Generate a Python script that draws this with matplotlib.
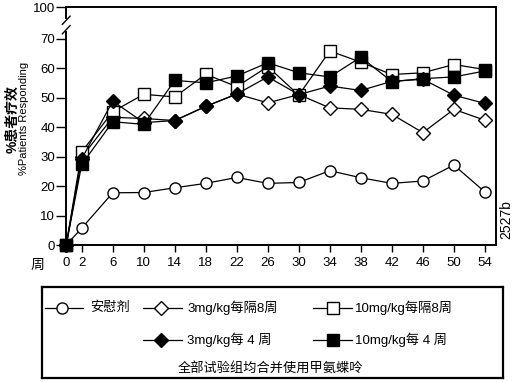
import matplotlib
matplotlib.use('Agg')
from matplotlib import pyplot as plt

plt.rcParams['font.family'] = ['Liberation Sans', 'Noto Sans CJK SC', 'DejaVu Sans']

# weeks and % patients responding
weeks = [0, 2, 6, 10, 14, 18, 22, 26, 30, 34, 38, 42, 46, 50, 54]
placebo = [0, 5.7, 17.7, 17.8, 19.4, 20.9, 22.9, 20.9, 21.2, 25.2, 22.8, 20.9, 21.7, 27.1, 18.0]
mg3_q8 = [0, 29.8, 43.3, 42.9, 42.2, 47.0, 51.2, 48.2, 51.0, 46.5, 46.0, 44.3, 38.1, 46.0, 42.3]
mg10_q8 = [0, 31.6, 45.2, 51.1, 50.2, 57.9, 53.7, 60.5, 50.8, 65.8, 62.0, 57.8, 58.4, 61.2, 59.5]
mg3_q4 = [0, 29.2, 48.8, 41.5, 42.2, 47.0, 51.2, 57.0, 51.0, 53.9, 52.4, 55.5, 56.2, 50.8, 48.0]
mg10_q4 = [0, 27.3, 41.8, 40.9, 55.8, 55.0, 57.3, 61.8, 58.4, 57.0, 63.7, 55.4, 56.4, 57.0, 59.0]

yticks = [0, 10, 20, 30, 40, 50, 60, 70]
ytop = 80.6   # where the "100" label sits after the axis break
labels = ['安慰剂', '3mg/kg每隔8周', '10mg/kg每隔8周', '3mg/kg每 4 周', '10mg/kg每 4 周']
note = '全部试验组均合并使用甲氨蝶呤'

W, H = 515, 382
fig = plt.figure(figsize=(W / 100, H / 100), dpi=100)
ax = fig.add_axes([66.2 / W, 1 - 245 / H, (496.5 - 66.2) / W, (245 - 7.3) / H])

styles = [
    dict(marker='o', mfc='white', ms=8, zorder=3),
    dict(marker='D', mfc='white', ms=7.2, zorder=4),
    dict(marker='s', mfc='white', ms=8.5, zorder=5),
    dict(marker='D', mfc='black', ms=7.2, zorder=6),
    dict(marker='s', mfc='black', ms=8.5, zorder=7),
]
series = [placebo, mg3_q8, mg10_q8, mg3_q4, mg10_q4]
for vals, st in zip(series, styles):
    ax.plot(weeks, vals, color='black', lw=0.9, mec='black', mew=1.0, clip_on=False, **st)

ax.set_xlim(0, 55.5)
ax.set_ylim(0, ytop)
ax.set_xticks(weeks)
ax.set_xticklabels([str(w) for w in weeks])
ax.set_yticks(yticks + [ytop])
ax.set_yticklabels([str(t) for t in yticks] + ['100'])
ax.tick_params(axis='x', direction='out', length=5, width=1, pad=4, labelsize=9.5)
ax.tick_params(axis='y', direction='out', length=7, width=1, pad=1, labelsize=9.5)
for s in ax.spines.values():
    s.set_linewidth(1.4)

# axis break on the left spine
tr = ax.get_yaxis_transform()
ax.plot([0, 0], [73.4, 75.8], transform=tr, color='white', lw=3, clip_on=False, zorder=10)
for yc in [73.0, 76.2]:
    ax.plot([-0.009, 0.009], [yc - 1.4, yc + 1.4], transform=tr, color='black', lw=1,
            clip_on=False, zorder=11)

fig.text(37 / W, 1 - 265 / H, '周', ha='center', va='center', fontsize=10)
fig.text(12 / W, 1 - 119 / H, '%患者疗效', rotation=90, ha='center', va='center',
         fontsize=10, fontweight='bold')
fig.text(24.5 / W, 1 - 118 / H, '%Patients Responding', rotation=90, ha='center', va='center',
         fontsize=8)
fig.text(506 / W, 1 - 220 / H, '2527b', rotation=90, ha='center', va='center', fontsize=10)

# legend box, drawn in its own axes measured in pixels
lx0, lx1, ly0, ly1 = 41.7, 503, 287, 377.7
lg = fig.add_axes([lx0 / W, 1 - ly1 / H, (lx1 - lx0) / W, (ly1 - ly0) / H])
lg.set_xlim(lx0, lx1)
lg.set_ylim(ly1, ly0)
lg.set_xticks([])
lg.set_yticks([])
for s in lg.spines.values():
    s.set_linewidth(1.6)

entries = [
    (45, 83, 62, 308, 90),
    (143, 182, 161, 308, 187),
    (313, 352, 333, 308, 355),
    (143, 182, 161, 340, 187),
    (313, 352, 333, 340, 355),
]
for (x0, x1, xm, y, xt), st, lab in zip(entries, styles, labels):
    lg.plot([x0, x1], [y, y], color='black', lw=0.9)
    lg.plot([xm], [y], color='black', mec='black', mew=1.0, **st)
    lg.text(xt, y, lab, ha='left', va='center', fontsize=9.5)
lg.text(270, 368, note, ha='center', va='center', fontsize=9.5)

fig.savefig('out.png', dpi=100)
